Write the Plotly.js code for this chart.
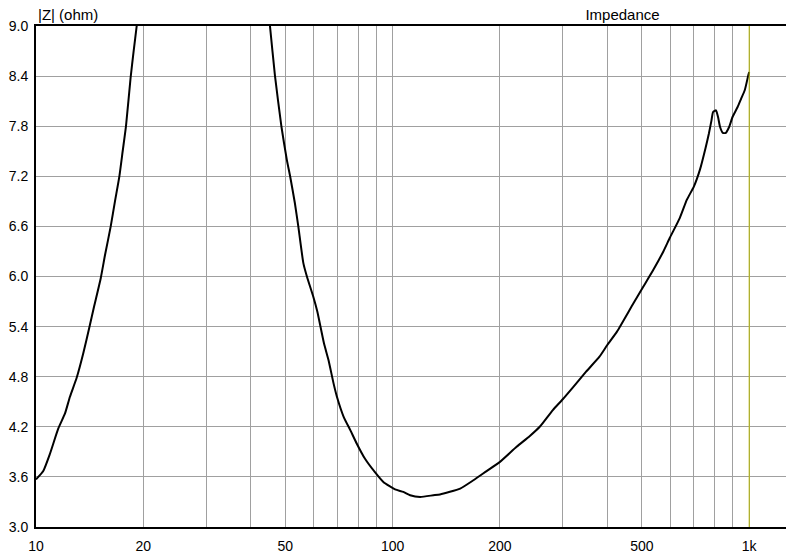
<!DOCTYPE html>
<html>
<head>
<meta charset="utf-8">
<script src="https://cdn.plot.ly/plotly-3.0.1.min.js"></script>
<style>
html,body{margin:0;padding:0;background:#fff;}
#chart{width:786px;height:553px;}
</style>
</head>
<body>
<div id="chart"></div>
<script>
// Low-frequency branch (below resonance)
const freqLow = [10, 10.48, 10.95, 11.55, 12.06, 12.45, 13.01, 13.57, 14.11, 14.55, 15.19, 15.62, 16.2, 16.65, 17.13, 17.5, 17.88, 18.42, 18.8, 19.16, 19.5];
const zLow    = [3.57, 3.67, 3.88, 4.18, 4.36, 4.56, 4.79, 5.08, 5.39, 5.64, 5.98, 6.26, 6.60, 6.90, 7.20, 7.50, 7.80, 8.38, 8.71, 9.0, 9.3];

// High-frequency branch (above resonance)
const freqHigh = [44.5, 45.3, 46.8, 48.8, 50.5, 51.6, 53.2, 54.4, 56.2, 57.5, 59.9, 61.5, 64.2, 66.1, 68.3, 69.8, 72.9, 76.1, 79.3, 83.6, 89.1, 94.2, 101.6, 107.2, 112, 119.5, 130.1, 135.8, 154.7, 168.5, 183.5, 200, 222.7, 242.6, 258.6, 281.4, 300, 320, 348.8, 380.3, 400, 425.8, 473.6, 505, 538.5, 574.5, 600, 638.6, 668.8, 700, 727.6, 754.4, 770.6, 783.9, 792, 807.2, 817.8, 828.6, 843.4, 859.7, 878.4, 898, 927.9, 949.4, 971.6, 994.2, 1000];
const zHigh    = [9.3, 9.0, 8.40, 7.79, 7.40, 7.20, 6.88, 6.60, 6.16, 6.00, 5.76, 5.58, 5.20, 5.00, 4.72, 4.56, 4.32, 4.16, 4.00, 3.82, 3.66, 3.54, 3.45, 3.42, 3.38, 3.36, 3.38, 3.39, 3.46, 3.56, 3.67, 3.78, 3.96, 4.09, 4.20, 4.40, 4.53, 4.67, 4.86, 5.04, 5.18, 5.34, 5.68, 5.88, 6.08, 6.30, 6.47, 6.70, 6.92, 7.08, 7.28, 7.54, 7.71, 7.87, 7.97, 7.99, 7.91, 7.79, 7.72, 7.72, 7.79, 7.91, 8.03, 8.13, 8.23, 8.41, 8.45];

// Axis ticks / grid
const xGridVals = [10,20,30,40,50,60,70,80,90,100,200,300,400,500,600,700,800,900,1000];
const xGridText = ['10','20','','','50','','','','','100','200','','','500','','','','','1k'];
const yTickVals = [3.0,3.6,4.2,4.8,5.4,6.0,6.6,7.2,7.8,8.4,9.0];

const FONT = 'Liberation Sans, Arial, sans-serif';
const lineStyle = {color:'#000000', width:2, shape:'spline', smoothing:0.5};

const traces = [
  {x: freqLow, y: zLow, type:'scatter', mode:'lines', line: lineStyle, hoverinfo:'skip', showlegend:false},
  {x: freqHigh, y: zHigh, type:'scatter', mode:'lines', line: lineStyle, hoverinfo:'skip', showlegend:false}
];

const layout = {
  width:786, height:553,
  margin:{l:36, r:0, t:26, b:26, pad:0},
  paper_bgcolor:'#ffffff', plot_bgcolor:'#ffffff',
  font:{family:FONT, size:14, color:'#000000'},
  showlegend:false,
  title:{text:'Impedance', font:{family:FONT, size:15, color:'#000000'},
         xref:'paper', x:0.782, xanchor:'center', yref:'container', y:1-14.5/553, yanchor:'middle'},
  xaxis:{
    type:'log', range:[1, 3.1032],
    tickmode:'array', tickvals:xGridVals, ticktext:xGridText,
    ticks:'', showgrid:true, gridcolor:'#a0a0a0', gridwidth:1,
    showline:true, linecolor:'#000000', linewidth:2, mirror:true,
    zeroline:false, ticklabelstandoff:5,
    tickfont:{family:FONT, size:14, color:'#000000'}
  },
  yaxis:{
    range:[3,9], tickmode:'array', tickvals:yTickVals,
    tickformat:'.1f', ticks:'', showgrid:true, gridcolor:'#a0a0a0', gridwidth:1,
    showline:true, linecolor:'#000000', linewidth:2,
    zeroline:false, ticklabelstandoff:3,
    tickfont:{family:FONT, size:14, color:'#000000'}
  },
  shapes:[
    {type:'line', xref:'x', yref:'paper', x0:1000, x1:1000, y0:0, y1:1,
     line:{color:'#b5b500', width:1}, layer:'above'}
  ],
  annotations:[
    {text:'|Z| (ohm)', xref:'paper', yref:'paper', x:0, y:1, xanchor:'left', yanchor:'bottom',
     xshift:0, yshift:1, showarrow:false, font:{family:FONT, size:15, color:'#000000'}}
  ]
};

Plotly.newPlot('chart', traces, layout, {staticPlot:true, displayModeBar:false});
</script>
</body>
</html>
